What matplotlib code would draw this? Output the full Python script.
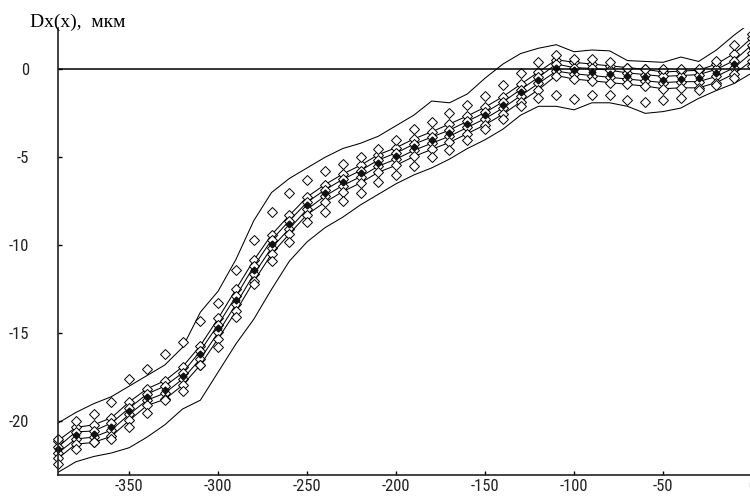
import matplotlib
matplotlib.use('Agg')
import matplotlib.pyplot as plt

plt.rcParams['axes.unicode_minus'] = False

# x positions (step 10)
x = list(range(-390, 1, 10))

# outer envelope
upper_env = [-20.1, -19.5, -19.0, -18.6, -18.0, -17.4, -16.8, -15.8, -13.8, -12.6,
             -10.8, -8.6, -7.0, -6.2, -5.6, -5.0, -4.5, -4.2, -3.8, -3.2,
             -2.6, -1.8, -1.9, -1.4, -0.5, 0.3, 0.9, 1.2, 1.4, 1.0,
             1.1, 1.05, 0.5, 0.45, 0.4, 0.7, 0.45, 1.1, 1.95, 2.7]
lower_env = [-22.9, -22.3, -22.0, -21.8, -21.5, -20.9, -20.2, -19.3, -18.8, -17.2,
             -15.6, -14.2, -12.5, -10.9, -9.8, -9.0, -8.4, -7.7, -7.1, -6.5,
             -6.0, -5.6, -5.1, -4.5, -4.0, -3.4, -2.6, -2.1, -2.1, -2.3,
             -1.9, -1.9, -2.1, -2.5, -2.4, -2.2, -1.65, -1.2, -0.8, -0.2]

# inner lines
line1 = [-21.1, -20.35, -20.2, -19.8, -18.9, -18.15, -17.7, -16.9, -15.7, -14.15,
         -12.5, -10.85, -9.4, -8.3, -7.25, -6.55, -5.95, -5.45, -4.85, -4.45,
         -3.95, -3.55, -3.1, -2.65, -2.15, -1.55, -0.85, -0.15, 0.55, 0.4,
         0.3, 0.2, 0.1, 0.0, -0.15, -0.1, -0.05, 0.3, 0.9, 1.8]
line2 = [-21.45, -20.6, -20.55, -20.1, -19.25, -18.45, -18.0, -17.25, -16.0, -14.5,
         -12.9, -11.2, -9.7, -8.6, -7.55, -6.85, -6.25, -5.75, -5.15, -4.75,
         -4.25, -3.85, -3.45, -2.95, -2.45, -1.85, -1.15, -0.45, 0.3, 0.1,
         0.05, -0.05, -0.2, -0.3, -0.4, -0.35, -0.3, 0.0, 0.5, 1.4]
line3 = [-21.8, -21.0, -20.9, -20.5, -19.6, -18.8, -18.4, -17.6, -16.45, -14.95,
         -13.35, -11.65, -10.15, -9.05, -7.95, -7.2, -6.6, -6.1, -5.5, -5.1,
         -4.6, -4.2, -3.8, -3.3, -2.8, -2.2, -1.5, -0.8, -0.1, -0.25,
         -0.35, -0.45, -0.55, -0.65, -0.75, -0.7, -0.7, -0.4, 0.1, 0.95]
line4 = [-22.1, -21.3, -21.2, -20.85, -19.95, -19.1, -18.75, -17.95, -16.8, -15.3,
         -13.75, -12.05, -10.5, -9.35, -8.25, -7.55, -6.95, -6.45, -5.85, -5.45,
         -4.95, -4.55, -4.15, -3.65, -3.15, -2.55, -1.85, -1.15, -0.35, -0.55,
         -0.65, -0.75, -0.85, -0.95, -1.1, -1.05, -1.05, -0.75, -0.25, 0.5]

# mean values (filled markers)
center = [-21.6, -20.8, -20.7, -20.3, -19.4, -18.6, -18.2, -17.4, -16.2, -14.7,
          -13.1, -11.4, -9.9, -8.8, -7.7, -7.0, -6.4, -5.9, -5.3, -4.9,
          -4.4, -4.0, -3.6, -3.1, -2.6, -2.0, -1.3, -0.6, 0.1, -0.05,
          -0.15, -0.25, -0.35, -0.45, -0.6, -0.55, -0.5, -0.2, 0.3, 1.2]

# outer diamond rows
upper_pts = [-21.0, -20.0, -19.6, -18.9, -17.6, -17.0, -16.2, -15.5, -14.3, -13.3,
             -11.4, -9.7, -8.1, -7.0, -6.3, -5.8, -5.4, -5.0, -4.5, -4.0,
             -3.4, -3.0, -2.5, -2.0, -1.5, -0.9, -0.2, 0.4, 0.8, 0.6,
             0.6, 0.4, 0.1, 0.0, 0.0, 0.0, 0.0, 0.5, 1.4, 2.0]
lower_pts = [-22.4, -21.6, -21.2, -21.0, -20.3, -19.5, -18.8, -18.3, -16.8, -15.8,
             -14.1, -12.2, -10.9, -9.8, -8.7, -8.1, -7.5, -7.0, -6.4, -6.0,
             -5.5, -5.0, -4.6, -4.0, -3.4, -2.8, -2.1, -1.6, -1.45, -1.7,
             -1.45, -1.45, -1.75, -1.85, -1.75, -1.6, -1.2, -0.9, -0.5, 0.2]

xticks = [-350, -300, -250, -200, -150, -100, -50, 0]
yticks = [-20, -15, -10, -5, 0]

fig = plt.figure(figsize=(7.5, 4.96), dpi=100)
ax = fig.add_axes([58/750, 21/496, 694/750, 447/496])
ax.set_xlim(-390, 0)
ax.set_ylim(-23.05, 2.35)

lw = 0.75
for s in (upper_env, lower_env):
    ax.plot(x, s, color='black', lw=lw)
for s in (line1, line2, line3, line4):
    ax.plot(x, s, color='black', lw=lw, marker='D', ms=5.5, mfc='white',
            mec='black', mew=0.7, clip_on=False)
for s in (upper_pts, lower_pts):
    ax.plot(x, s, ls='none', marker='D', ms=5.5, mfc='white', mec='black',
            mew=0.7, clip_on=False)
ax.plot(x, center, ls='none', marker='D', ms=3.5, mfc='#111111', mec='#111111',
        clip_on=False)

ax.axhline(0, color='black', lw=1.1)

for sp in ('top', 'right'):
    ax.spines[sp].set_visible(False)
for sp in ('left', 'bottom'):
    ax.spines[sp].set_linewidth(1.2)
    ax.spines[sp].set_color('#222222')

ax.set_xticks(xticks)
ax.set_yticks(yticks)
ax.set_xticklabels([str(v) for v in xticks])
ax.set_yticklabels([str(v) for v in yticks])
ax.tick_params(axis='x', direction='in', length=3, width=1, pad=3)
ax.tick_params(axis='y', direction='in', length=3, width=1, pad=21)
for lab in ax.get_xticklabels() + ax.get_yticklabels():
    lab.set_family(['Roboto Condensed', 'DejaVu Sans'])
    lab.set_stretch('condensed')
    lab.set_fontsize(12)
    lab.set_color('#222222')

fig.text(30/750, 1 - 27/496, 'Dx(x),  мкм', family=['Liberation Serif', 'DejaVu Serif'],
         fontsize=14, va='baseline', ha='left')

fig.savefig('out.png', dpi=100)
